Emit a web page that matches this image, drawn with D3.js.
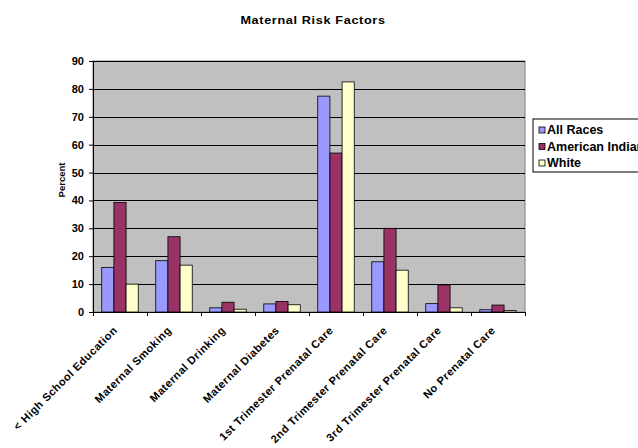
<!DOCTYPE html>
<html>
<head>
<meta charset="utf-8">
<script src="https://cdn.jsdelivr.net/npm/d3@7"></script>
<style>
  body { margin: 0; background: #fff; }
  svg { font-family: "Liberation Sans", Arial, sans-serif; font-weight: bold; }
</style>
</head>
<body>
<svg id="chart" width="638" height="448"></svg>
<script>
// Categories and series
const categories = [
  '< High School Education', 'Maternal Smoking', 'Maternal Drinking', 'Maternal Diabetes',
  '1st Trimester Prenatal Care', '2nd Trimester Prenatal Care', '3rd Trimester Prenatal Care', 'No Prenatal Care'
];
const seriesNames = ['All Races', 'American Indian', 'White'];
const allRaces = [16.0, 18.4, 1.5, 2.9, 77.4, 18.0, 3.0, 0.8];
const americanIndian = [39.3, 27.0, 3.5, 3.8, 57.0, 30.0, 9.7, 2.5];
const white = [10.0, 16.8, 1.0, 2.6, 82.5, 15.0, 1.5, 0.5];
const yTicks = [0, 10, 20, 30, 40, 50, 60, 70, 80, 90];
const colors = ['#9999FF', '#993366', '#FFFFCC'];

const series = [allRaces, americanIndian, white];

const margin = { top: 61, left: 93, right: 113, bottom: 136 };
const width = 638 - margin.left - margin.right;
const height = 448 - margin.top - margin.bottom;

const svg = d3.select('#chart');

// Title (the original text is drawn a bit wide)
svg.append('text')
  .attr('transform', 'translate(313,24) scale(1.1,1)')
  .attr('text-anchor', 'middle')
  .attr('font-size', 11.5)
  .attr('letter-spacing', 0.6)
  .text('Maternal Risk Factors');

const g = svg.append('g').attr('transform', `translate(${margin.left},${margin.top})`);

const x = d3.scaleBand().domain(categories).range([0, width]);
const xInner = d3.scaleBand().domain(seriesNames)
  .range([0, x.bandwidth()]).paddingOuter(0.72).paddingInner(0);
const y = d3.scaleLinear().domain([0, 90]).range([height, 0]);

// Plot area
g.append('rect')
  .attr('width', width).attr('height', height)
  .attr('fill', '#C0C0C0').attr('stroke', '#808080').attr('stroke-width', 1);

// Gridlines
g.selectAll('.grid').data(yTicks.filter(d => d > 0))
  .enter().append('line')
  .attr('x1', 0).attr('x2', width)
  .attr('y1', d => Math.round(y(d)) + 0.5).attr('y2', d => Math.round(y(d)) + 0.5)
  .attr('stroke', '#000').attr('stroke-width', 1);

// Bars
const groups = g.selectAll('.cat').data(categories)
  .enter().append('g')
  .attr('transform', d => `translate(${x(d)},0)`);

groups.selectAll('rect')
  .data((d, i) => series.map((s, j) => ({ name: seriesNames[j], value: s[i], color: colors[j] })))
  .enter().append('rect')
  .attr('x', d => xInner(d.name))
  .attr('y', d => y(d.value))
  .attr('width', xInner.bandwidth())
  .attr('height', d => height - y(d.value))
  .attr('fill', d => d.color)
  .attr('stroke', '#000').attr('stroke-width', 0.8);

// Y axis
const yAxis = g.append('g')
  .call(d3.axisLeft(y).tickValues(yTicks).tickSize(4).tickPadding(5));
yAxis.select('.domain').attr('stroke', '#000');
yAxis.selectAll('text').attr('font-size', 11).attr('font-weight', 'bold').attr('fill', '#000')
  .attr('font-family', '"Liberation Sans", Arial, sans-serif');

// X axis
const xAxis = g.append('g')
  .attr('transform', `translate(0,${height})`)
  .call(d3.axisBottom(d3.scaleLinear().domain([0, categories.length]).range([0, width]))
    .ticks(categories.length).tickSize(4).tickFormat(''));
xAxis.select('.domain').attr('stroke', '#000');

// Rotated category labels
g.selectAll('.xlabel').data(categories)
  .enter().append('text')
  .attr('font-size', 11)
  .attr('letter-spacing', 0.5)
  .attr('text-anchor', 'end')
  .attr('transform', d => `translate(${x(d) + x.bandwidth() / 2 - 2},${height + 19}) rotate(-45)`)
  .text(d => d);

// Y axis title
svg.append('text')
  .attr('transform', 'translate(65,180) rotate(-90)')
  .attr('text-anchor', 'middle')
  .attr('font-size', 9.5)
  .text('Percent');

// Legend (the reference cuts it off at the right edge)
const legend = svg.append('g').attr('transform', 'translate(533,119)');
legend.append('rect')
  .attr('width', 120).attr('height', 53)
  .attr('fill', '#fff').attr('stroke', '#000');
seriesNames.forEach((name, i) => {
  const row = legend.append('g').attr('transform', `translate(0,${15 + i * 16.5})`);
  row.append('rect').attr('x', 6).attr('y', -7).attr('width', 6).attr('height', 6)
    .attr('fill', colors[i]).attr('stroke', '#000').attr('stroke-width', 0.8);
  row.append('text').attr('x', 14).attr('y', 0).attr('font-size', 12.5).text(name);
});
</script>
</body>
</html>
